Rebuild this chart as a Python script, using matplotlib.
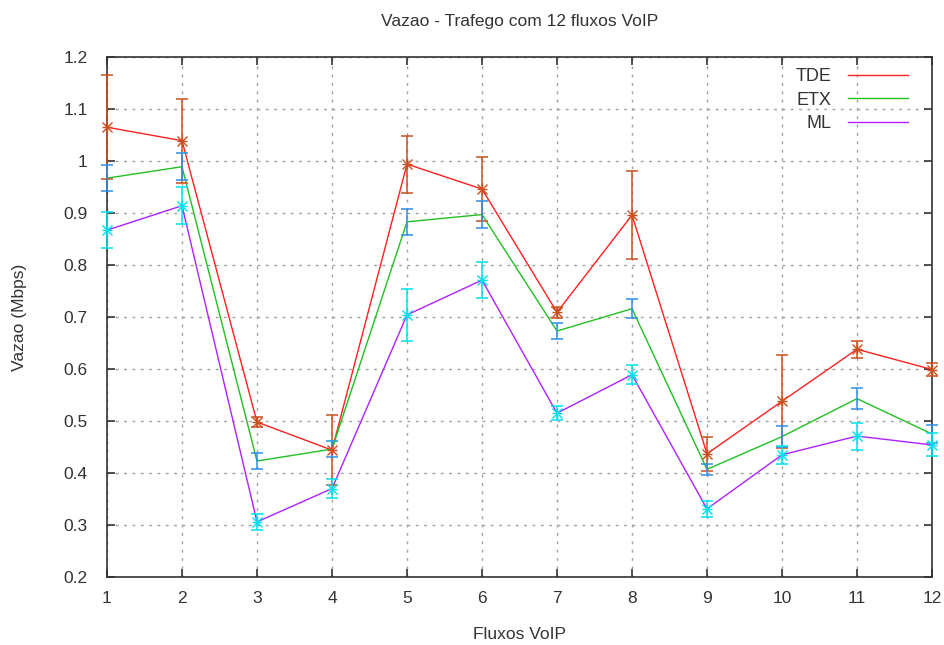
import matplotlib
matplotlib.use("Agg")
import matplotlib.pyplot as plt
from matplotlib.lines import Line2D

plt.rcParams['font.family'] = ['Liberation Sans', 'DejaVu Sans']

fluxos = [1, 2, 3, 4, 5, 6, 7, 8, 9, 10, 11, 12]
tde = [1.065, 1.039, 0.498, 0.444, 0.994, 0.946, 0.709, 0.896, 0.437, 0.538, 0.638, 0.599]
tde_err = [0.100, 0.081, 0.010, 0.068, 0.055, 0.062, 0.010, 0.085, 0.033, 0.089, 0.016, 0.013]
etx = [0.967, 0.989, 0.423, 0.446, 0.883, 0.897, 0.673, 0.716, 0.407, 0.470, 0.543, 0.475]
etx_err = [0.025, 0.026, 0.016, 0.016, 0.025, 0.026, 0.015, 0.018, 0.011, 0.020, 0.020, 0.018]
ml = [0.867, 0.914, 0.306, 0.370, 0.704, 0.771, 0.515, 0.589, 0.331, 0.435, 0.471, 0.454]
ml_err = [0.035, 0.036, 0.015, 0.018, 0.050, 0.034, 0.013, 0.018, 0.015, 0.017, 0.026, 0.022]

labels = ['TDE', 'ETX', 'ML']
line_colors = ['#ff2020', '#20c020', '#b020ff']
bar_colors = ['#c8501e', '#2e8fe8', '#00e0ec']
markers = ['x', None, 'x']

fig = plt.figure(figsize=(9.45, 6.45), dpi=100)
ax = fig.add_axes([107/945, 1-577/645, 825/945, 520/645])

series = [(tde, tde_err), (etx, etx_err), (ml, ml_err)]
for (vals, errs), lc, bc, mk in zip(series, line_colors, bar_colors, markers):
    ax.plot(fluxos, vals, color=lc, lw=1.0, zorder=3, clip_on=False)
    ax.errorbar(fluxos, vals, yerr=errs, fmt='none', ecolor=bc, elinewidth=1.1,
                capsize=4, capthick=1.1, zorder=4, clip_on=False)
    if mk:
        ax.plot(fluxos, vals, ls='none', marker='x', ms=7, mew=1.0, color=bc, zorder=5, clip_on=False)
        ax.plot(fluxos, vals, ls='none', marker='+', ms=7, mew=1.0, color=bc, zorder=5, clip_on=False)

ax.set_xlim(1, 12)
ax.set_ylim(0.2, 1.2)
ax.set_xticks(fluxos)
ax.set_xticklabels([str(v) for v in fluxos])
yt = [0.2, 0.3, 0.4, 0.5, 0.6, 0.7, 0.8, 0.9, 1.0, 1.1, 1.2]
ax.set_yticks(yt)
ax.set_yticklabels(['0.2', '0.3', '0.4', '0.5', '0.6', '0.7', '0.8', '0.9', '1', '1.1', '1.2'])
ax.tick_params(direction='in', top=True, right=True, length=6, width=1.2,
               labelsize=12.5, colors='#333333')
ax.tick_params(axis='y', pad=14)
ax.tick_params(axis='x', pad=10)
ax.grid(True, color='#a0a0a0', ls=(0, (2, 4)), lw=1.0)
for s in ax.spines.values():
    s.set_color('#333333')
    s.set_linewidth(1.2)

ax.set_title('Vazao - Trafego com 12 fluxos VoIP', fontsize=12.5, color='#333333', pad=22)
ax.set_xlabel('Fluxos VoIP', fontsize=12.5, color='#333333', labelpad=15)
ax.set_ylabel('Vazao (Mbps)', fontsize=12.5, color='#333333', labelpad=26)

handles = [Line2D([0], [0], color=c, lw=1.0) for c in line_colors]
leg = ax.legend(handles, labels, loc='upper right', bbox_to_anchor=(0.971, 0.979),
                borderaxespad=0, borderpad=0,
                frameon=False, markerfirst=False, handlelength=3.3, handletextpad=0.95,
                labelspacing=0.37, fontsize=13)
for t in leg.get_texts():
    t.set_color('#333333')
    t.set_ha('right')
leg.set_zorder(6)

fig.savefig('out.png', dpi=100, facecolor='white')
